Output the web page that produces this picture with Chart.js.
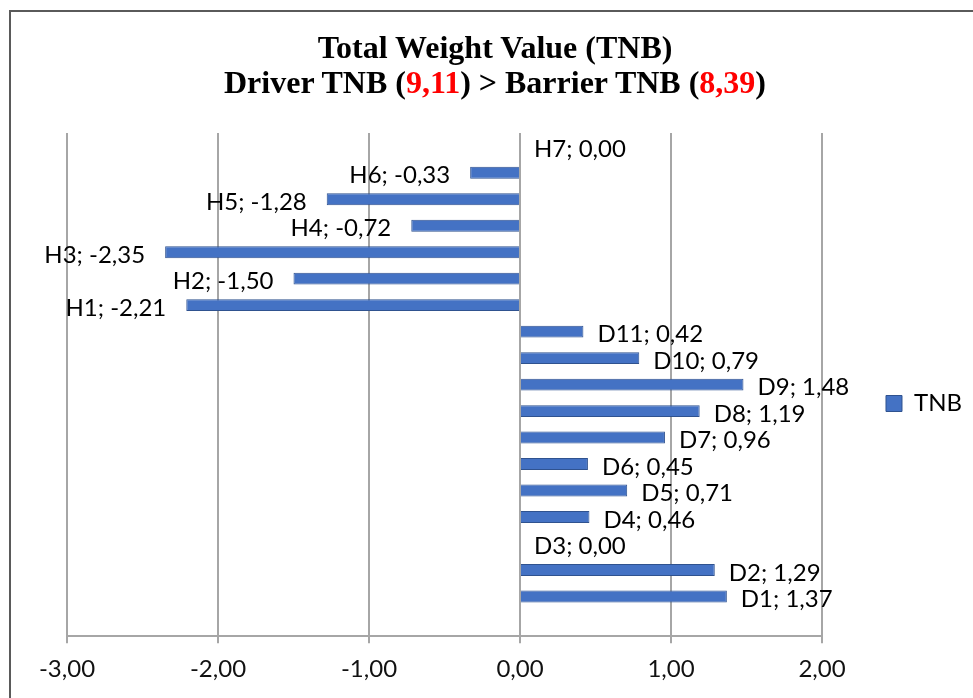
<!DOCTYPE html>
<html>
<head>
<meta charset="utf-8">
<script src="https://cdn.jsdelivr.net/npm/chart.js@4.4.1/dist/chart.umd.min.js"></script>
<style>
  html, body { margin: 0; padding: 0; width: 973px; height: 698px; overflow: hidden; background: #fff; }
  #frame { position: absolute; left: 9px; top: 10px; width: 1000px; height: 1000px;
           border-left: 2px solid #5a5a5a; border-top: 2px solid #5a5a5a; }
  #c { position: absolute; left: 0; top: 0; }
  #title { position: absolute; left: 0; top: 30px; width: 990px; text-align: center;
           font-family: 'Liberation Serif', 'Times New Roman', serif; font-weight: bold;
           font-size: 32px; line-height: 35px; color: #000; }
  #title .red { color: #ff0000; }
</style>
</head>
<body>
<div id="frame"></div>
<canvas id="c" width="973" height="698"></canvas>
<div id="title">Total Weight Value (TNB)<br>Driver TNB (<span class="red">9,11</span>) &gt; Barrier TNB (<span class="red">8,39</span>)</div>
<script>
// Categories from top to bottom (last one is the empty row below D1)
const categories = ['H7','H6','H5','H4','H3','H2','H1','D11','D10','D9','D8','D7','D6','D5','D4','D3','D2','D1',''];
const tnbValues  = [0.00,-0.33,-1.28,-0.72,-2.35,-1.50,-2.21,0.42,0.79,1.48,1.19,0.96,0.45,0.71,0.46,0.00,1.29,1.37,null];
const seriesName = 'TNB';
const xTicks = [-3, -2, -1, 0, 1, 2];

const fmt = v => v.toFixed(2).replace('.', ',');
const FONT = 'Lato';

const labelPlugin = {
  id: 'barLabels',
  afterDatasetsDraw(chart) {
    const ctx = chart.ctx;
    const meta = chart.getDatasetMeta(0);
    const xs = chart.scales.x;
    ctx.save();
    ctx.font = '24px ' + FONT;
    ctx.fillStyle = '#000';
    ctx.textBaseline = 'middle';
    meta.data.forEach((el, i) => {
      const v = tnbValues[i];
      if (v === null || v === undefined) return;
      const txt = categories[i] + '; ' + fmt(v);
      const px = xs.getPixelForValue(v);
      const y = el.y + 3;
      if (v >= 0) { ctx.textAlign = 'left'; ctx.fillText(txt, px + 14, y); }
      else { ctx.textAlign = 'right'; ctx.fillText(txt, px - 20, y); }
    });
    ctx.restore();
  }
};

new Chart(document.getElementById('c'), {
  type: 'bar',
  data: {
    labels: categories,
    datasets: [{
      label: seriesName,
      data: tnbValues,
      backgroundColor: '#4472C4',
      borderColor: '#2F528F',
      borderWidth: 1,
      barPercentage: 0.9,
      categoryPercentage: 0.5
    }]
  },
  options: {
    indexAxis: 'y',
    responsive: false,
    animation: false,
    layout: { padding: { left: 67, right: 1, top: 111, bottom: 2 } },
    plugins: {
      title: { display: false },
      subtitle: { display: true, text: '', padding: 0, font: { size: 20, lineHeight: 1.1 } },
      tooltip: { enabled: false },
      legend: {
        display: true,
        position: 'right',
        labels: {
          boxWidth: 16, boxHeight: 16, padding: 64,
          color: '#000',
          font: { family: FONT, size: 24 }
        }
      }
    },
    scales: {
      x: {
        min: -3, max: 2,
        afterBuildTicks(scale) { scale.ticks = xTicks.map(v => ({ value: v })); },
        grid: { color: '#a6a6a6', lineWidth: 2, tickLength: 7, tickColor: '#a6a6a6' },
        border: { display: true, color: '#a6a6a6', width: 2 },
        ticks: {
          padding: 12,
          color: '#111',
          font: { family: FONT, size: 24 },
          callback: v => fmt(v)
        }
      },
      y: {
        display: false,
        grid: { display: false }
      }
    }
  },
  plugins: [labelPlugin]
});
</script>
</body>
</html>
